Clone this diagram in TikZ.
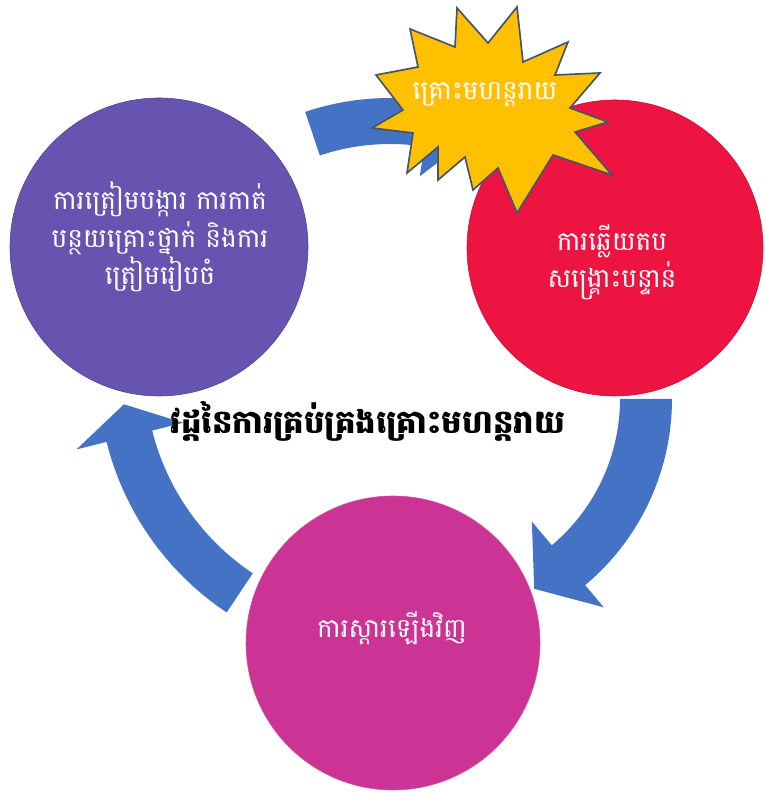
\documentclass[tikz,border=0pt]{standalone}
\usepackage{fontspec}
\newfontfamily\khmerfont[Script=Khmer]{Battambang}
\usetikzlibrary{calc}
\definecolor{prepcol}{RGB}{102,84,176}
\definecolor{respcol}{RGB}{237,20,66}
\definecolor{recovcol}{RGB}{203,51,148}
\definecolor{arrowblue}{RGB}{68,114,196}
\definecolor{staryellow}{RGB}{255,192,0}
\definecolor{staredge}{RGB}{70,84,110}
\tikzset{
  phase/.style={text=white,align=center,font=\khmerfont\fontsize{18.8}{26.5}\selectfont},
  title/.style={text=black,font=\khmerfont\bfseries\fontsize{23}{26}\selectfont},
}

\begin{document}
\begin{tikzpicture}[x=0.025cm,y=0.025cm]
  \useasboundingbox (0,0) rectangle (765,794);
  % curved arrows: centre / inner r / outer r / tail / head back / head radii / tip
  \foreach \cx/\cy/\ri/\ro/\ta/\hb/\hi/\ho/\tp/\tr in
    {390/430/220/266/108.6/81/190/300/70/243,
     429/395/191/243/0/-50/160/272/-61/217,
     387/422/242/289/236.3/194/210/320/187/265}{
    \fill[arrowblue,shift={(\cx,\cy)}]
      (\ta:\ro) arc[start angle=\ta,end angle=\hb,radius=\ro]
      -- (\hb:\ho) -- (\tp:\tr) -- (\hb:\hi) -- (\hb:\ri)
      arc[start angle=\hb,end angle=\ta,radius=\ri] -- cycle;
  }
  \coordinate (P) at (159,547);
  \coordinate (R) at (615,546);
  \coordinate (M) at (393,151);
  \fill[prepcol] (P) circle(149);
  \fill[respcol] (R) circle(148);
  \fill[recovcol] (M) circle(147);
  \draw[prepcol!80!black,line width=0.4pt] (P) circle(149);
  \draw[respcol!80!black,line width=0.4pt] (R) circle(148);
  \draw[recovcol!85!white,line width=0.4pt] (M) circle(147);
  % starburst
  \filldraw[fill=staryellow,draw=staredge,line width=1.2pt,line join=miter]
    (457,786) -- (488,751) -- (517,787) -- (523,732) -- (568,752) -- (555,719)
    -- (600,721) -- (570,686) -- (608,672) -- (575,662) -- (612,619) -- (553,639)
    -- (517,581) -- (498,626) -- (473,604) -- (465,637) -- (438,614) -- (438,647)
    -- (407,621) -- (413,661) -- (372,666) -- (403,684) -- (376,719) -- (418,727)
    -- (410,765) -- (455,747) -- cycle;
  \node[phase] (hazard) at (485,699) {គ្រោះមហន្តរាយ};
  \node[phase] (prep) at (160,557) {ការត្រៀមបង្ការ ការកាត់\\បន្ថយគ្រោះថ្នាក់ និងការ\\ត្រៀមរៀបចំ};
  \node[phase] (resp) at (612,532) {ការឆ្លើយតប\\សង្គ្រោះបន្ទាន់};
  \node[phase] (recov) at (392,166) {ការស្តារឡើងវិញ};
  \node[title] (cycle) at (368,373) {វដ្តនៃការគ្រប់គ្រងគ្រោះមហន្តរាយ};
\end{tikzpicture}
\end{document}
